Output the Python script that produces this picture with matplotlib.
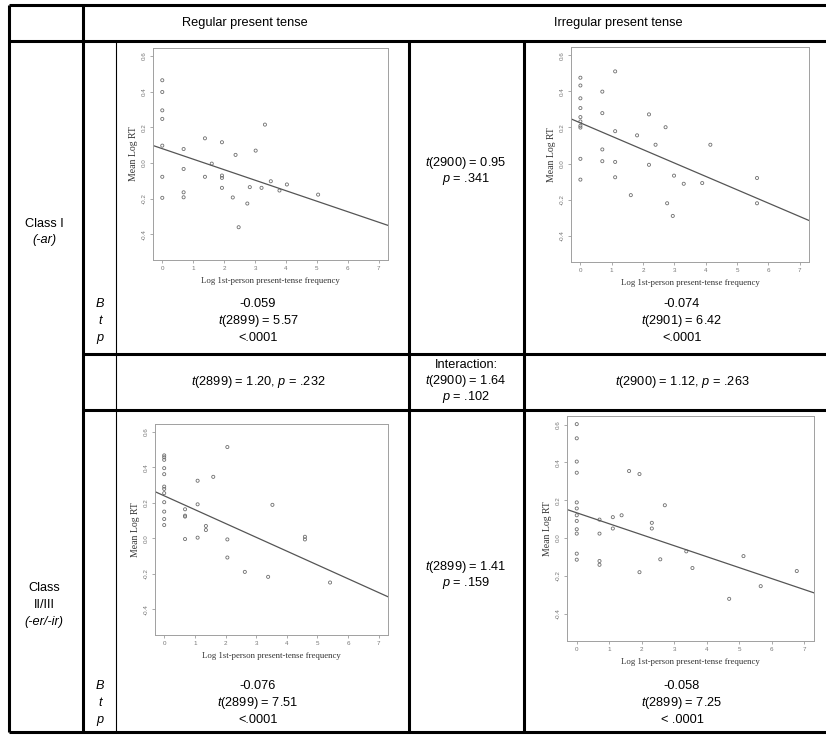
import matplotlib.pyplot as plt

plt.rcParams['font.family'] = ['Liberation Sans', 'DejaVu Sans']
plt.rcParams['mathtext.fontset'] = 'custom'
plt.rcParams['mathtext.rm'] = 'Liberation Sans'
plt.rcParams['mathtext.it'] = 'Liberation Sans:italic'

# Class I, regular present tense
reg1_x = [0, 0, 0, 0, 0, 0, 0, 0.69, 0.69, 0.69, 0.69, 1.38, 1.38, 1.6, 1.93, 1.93, 1.93, 1.93,
          2.28, 2.37, 2.47, 2.75, 2.83, 3.02, 3.21, 3.32, 3.51, 3.79, 4.03, 5.04]
reg1_y = [0.464, 0.398, 0.295, 0.247, 0.097, -0.078, -0.196, 0.078, -0.034, -0.165, -0.193, 0.138,
          -0.078, -0.004, 0.116, -0.071, -0.084, -0.140, -0.194, 0.045, -0.361, -0.228, -0.136,
          0.069, -0.140, 0.215, -0.103, -0.155, -0.121, -0.178]

# Class I, irregular present tense
irr1_x = [0, 0, 0, 0, 0, 0, 0, 0, 0, 0, 0.7, 0.7, 0.7, 0.7, 1.11, 1.11, 1.11, 1.11, 1.61, 1.81,
          2.19, 2.19, 2.4, 2.72, 2.77, 2.95, 2.99, 3.3, 3.89, 4.15, 5.64, 5.64]
irr1_y = [0.475, 0.432, 0.361, 0.307, 0.257, 0.233, 0.209, 0.199, 0.026, -0.089, 0.398, 0.279,
          0.078, 0.013, 0.51, 0.179, 0.009, -0.076, -0.175, 0.156, 0.272, -0.007, 0.104, 0.201,
          -0.22, -0.29, -0.067, -0.112, -0.108, 0.104, -0.08, -0.22]

# Class II/III, regular present tense
reg2_x = [0, 0, 0, 0, 0, 0, 0, 0, 0, 0, 0, 0, 0.68, 0.68, 0.68, 0.68, 1.09, 1.09, 1.09, 1.36,
          1.36, 1.6, 2.06, 2.06, 2.06, 2.63, 3.39, 3.53, 4.59, 4.59, 5.41]
reg2_y = [0.468, 0.457, 0.443, 0.396, 0.362, 0.292, 0.279, 0.255, 0.204, 0.151, 0.109, 0.075,
          0.164, 0.128, 0.123, -0.004, 0.325, 0.192, 0.004, 0.07, 0.047, 0.347, 0.515, -0.006,
          -0.108, -0.189, -0.217, 0.189, 0.009, -0.006, -0.249]

# Class II/III, irregular present tense
irr2_x = [0, 0, 0, 0, 0, 0, 0, 0, 0, 0, 0, 0, 0.7, 0.7, 0.7, 0.7, 1.11, 1.11, 1.38, 1.61, 1.93,
          1.93, 2.31, 2.31, 2.57, 2.71, 3.37, 3.56, 4.69, 5.13, 5.66, 6.77]
irr2_y = [0.602, 0.527, 0.404, 0.345, 0.188, 0.156, 0.12, 0.09, 0.046, 0.023, -0.083, -0.115,
          0.097, 0.023, -0.122, -0.142, 0.11, 0.05, 0.12, 0.354, 0.338, -0.181, 0.08, 0.05,
          -0.113, 0.173, -0.071, -0.159, -0.322, -0.096, -0.255, -0.175]

# fitted lines (intercept, slope)
intercepts = [0.08, 0.225, 0.24, 0.133]
slopes = [-0.059, -0.074, -0.078, -0.058]

col_headers = ['Regular present tense', 'Irregular present tense']
row_headers = [['Class I', '(-ar)'], ['Class', 'II/III', '(-er/-ir)']]
stats_reg1 = ['-0.059', '$t$(2899) = 5.57', '<.0001']
stats_irr1 = ['-0.074', '$t$(2901) = 6.42', '<.0001']
stats_reg2 = ['-0.076', '$t$(2899) = 7.51', '<.0001']
stats_irr2 = ['-0.058', '$t$(2899) = 7.25', '< .0001']
mid_class1 = ['$t$(2900) = 0.95', '$p$ = .341']
mid_class2 = ['$t$(2899) = 1.41', '$p$ = .159']
interaction = ['Interaction:', '$t$(2900) = 1.64', '$p$ = .102']
reg_diff = '$t$(2899) = 1.20, $p$ = .232'
irr_diff = '$t$(2900) = 1.12, $p$ = .263'

W, H = 826, 735
fig = plt.figure(figsize=(W / 100, H / 100), dpi=100)

# table grid in pixel coordinates
tab = fig.add_axes([0, 0, 1, 1])
tab.set_xlim(0, W)
tab.set_ylim(H, 0)
tab.axis('off')

thick = 2.2
thin = 0.8
for y, x0 in [(5, 9), (41, 9), (354, 83), (410, 83), (732, 9)]:
    tab.plot([x0, W], [y, y], color='black', lw=thick, solid_capstyle='butt')
for x, y0 in [(9, 5), (83, 5), (409, 41), (524, 41)]:
    tab.plot([x, x], [y0, 732], color='black', lw=thick, solid_capstyle='butt')
tab.plot([116, 116], [41, 732], color='black', lw=thin)

fs = 9.2
def cell(x, y, s, **kw):
    tab.text(x, y, s, ha='center', va='center', fontsize=fs, **kw)

cell(245, 23, col_headers[0])
cell(618, 23, col_headers[1])

cell(44, 224, row_headers[0][0])
cell(44, 240, row_headers[0][1], style='italic')
cell(44, 588, row_headers[1][0])
cell(44, 605, row_headers[1][1])
cell(44, 622, row_headers[1][2], style='italic')

# B / t / p rows
for ys, sr, si in [([304, 321, 338], stats_reg1, stats_irr1),
                   ([686, 703, 720], stats_reg2, stats_irr2)]:
    for y, lab, a, b in zip(ys, ['B', 't', 'p'], sr, si):
        cell(100, y, lab, style='italic')
        cell(258, y, a)
        cell(682, y, b)

for y, s in zip([163, 179], mid_class1):
    cell(466, y, s)
for y, s in zip([567, 583], mid_class2):
    cell(466, y, s)
for y, s in zip([365, 381, 397], interaction):
    cell(466, y, s)
cell(258, 382, reg_diff)
cell(682, 382, irr_diff)

# scatter panels: (left, top, right, bottom) in pixels
boxes = [(153, 48, 388, 260), (571, 47, 809, 262), (155, 424, 388, 635), (567, 416, 814, 641)]
series = [(reg1_x, reg1_y), (irr1_x, irr1_y), (reg2_x, reg2_y), (irr2_x, irr2_y)]

for (l, t, r, b), (xs, ys), b0, b1 in zip(boxes, series, intercepts, slopes):
    ax = fig.add_axes([l / W, 1 - b / H, (r - l) / W, (b - t) / H])
    ax.scatter(xs, ys, s=5, facecolors='none', edgecolors='#6e6e6e', linewidths=0.6)
    ax.axline((0, b0), slope=b1, color='#555555', lw=0.9)
    ax.set_xlim(-0.3, 7.3)
    ax.set_ylim(-0.545, 0.645)
    ax.set_xticks(range(8))
    ax.set_yticks([-0.4, -0.2, 0.0, 0.2, 0.4, 0.6])
    ax.set_yticklabels(['-0.4', '-0.2', '0.0', '0.2', '0.4', '0.6'], rotation=90, va='center')
    ax.tick_params(labelsize=4.5, colors='#888888', labelcolor='#777777', length=2.5, width=0.5, pad=2)
    for sp in ax.spines.values():
        sp.set_color('#a0a0a0')
        sp.set_linewidth(0.7)
    ax.set_xlabel('Log 1st-person present-tense frequency', family='Liberation Serif',
                  fontsize=6.3, color='#333333', labelpad=4)
    ax.set_ylabel('Mean Log RT', family='Liberation Serif', fontsize=7, color='#333333', labelpad=3)

fig.savefig('out.png', dpi=100)
